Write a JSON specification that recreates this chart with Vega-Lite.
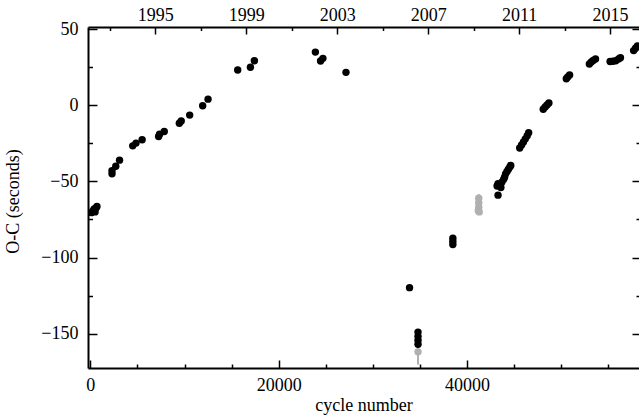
{
  "$schema": "https://vega.github.io/schema/vega-lite/v6.json",
  "autosize": "none",
  "padding": {"left": 88, "top": 27, "right": 0, "bottom": 51},
  "width": 551,
  "height": 341,
  "background": "white",
  "config": {
    "view": {"stroke": null},
    "axis": {
      "grid": false,
      "labelFont": "Liberation Serif",
      "labelFontSize": 18,
      "labelColor": "black",
      "titleFont": "Liberation Serif",
      "titleFontSize": 18,
      "titleFontWeight": "normal",
      "titleColor": "black",
      "domainColor": "black",
      "domainWidth": 2,
      "tickColor": "black",
      "tickWidth": 1.5
    }
  },
  "data": {
    "values": [
      {"cycle": 34800, "oc": -162, "grp": "b", "lo": -170.4, "hi": -153.6},
      {"cycle": 41250, "oc": -61, "grp": "b", "lo": -64, "hi": -58.3},
      {"cycle": 41250, "oc": -64, "grp": "b"},
      {"cycle": 41250, "oc": -67, "grp": "b"},
      {"cycle": 41200, "oc": -69.3, "grp": "b"},
      {"cycle": 41300, "oc": -70, "grp": "b"},
      {"cycle": 100, "oc": -70.5, "grp": "a"},
      {"cycle": 250, "oc": -69.5, "grp": "a"},
      {"cycle": 400, "oc": -68, "grp": "a"},
      {"cycle": 500, "oc": -70, "grp": "a"},
      {"cycle": 600, "oc": -67.5, "grp": "a"},
      {"cycle": 700, "oc": -66.5, "grp": "a"},
      {"cycle": 2300, "oc": -45, "grp": "a"},
      {"cycle": 2300, "oc": -43, "grp": "a"},
      {"cycle": 2700, "oc": -40, "grp": "a"},
      {"cycle": 3100, "oc": -36, "grp": "a"},
      {"cycle": 4500, "oc": -26.6, "grp": "a"},
      {"cycle": 4850, "oc": -24.8, "grp": "a"},
      {"cycle": 5500, "oc": -22.6, "grp": "a"},
      {"cycle": 7250, "oc": -20.5, "grp": "a"},
      {"cycle": 7350, "oc": -19, "grp": "a"},
      {"cycle": 7850, "oc": -17.2, "grp": "a"},
      {"cycle": 9450, "oc": -11.8, "grp": "a"},
      {"cycle": 9650, "oc": -10.2, "grp": "a"},
      {"cycle": 10550, "oc": -6.4, "grp": "a"},
      {"cycle": 11930, "oc": -0.2, "grp": "a"},
      {"cycle": 12500, "oc": 4.1, "grp": "a"},
      {"cycle": 15650, "oc": 23.2, "grp": "a"},
      {"cycle": 17000, "oc": 25, "grp": "a"},
      {"cycle": 17420, "oc": 29.3, "grp": "a"},
      {"cycle": 23900, "oc": 35, "grp": "a"},
      {"cycle": 24450, "oc": 29.2, "grp": "a"},
      {"cycle": 24700, "oc": 30.9, "grp": "a"},
      {"cycle": 27150, "oc": 21.7, "grp": "a"},
      {"cycle": 33900, "oc": -119.8, "grp": "a"},
      {"cycle": 34800, "oc": -149, "grp": "a"},
      {"cycle": 34800, "oc": -151.8, "grp": "a"},
      {"cycle": 34800, "oc": -154.4, "grp": "a"},
      {"cycle": 34800, "oc": -157, "grp": "a"},
      {"cycle": 38500, "oc": -87.3, "grp": "a"},
      {"cycle": 38500, "oc": -89.5, "grp": "a"},
      {"cycle": 38500, "oc": -91.5, "grp": "a"},
      {"cycle": 43300, "oc": -59, "grp": "a"},
      {"cycle": 43200, "oc": -53, "grp": "a"},
      {"cycle": 43300, "oc": -51.5, "grp": "a"},
      {"cycle": 43500, "oc": -52.5, "grp": "a"},
      {"cycle": 43600, "oc": -54, "grp": "a"},
      {"cycle": 43700, "oc": -50.5, "grp": "a"},
      {"cycle": 43900, "oc": -48.5, "grp": "a"},
      {"cycle": 44000, "oc": -47, "grp": "a"},
      {"cycle": 44100, "oc": -45, "grp": "a"},
      {"cycle": 44250, "oc": -43.5, "grp": "a"},
      {"cycle": 44400, "oc": -42, "grp": "a"},
      {"cycle": 44550, "oc": -40.5, "grp": "a"},
      {"cycle": 44650, "oc": -39.5, "grp": "a"},
      {"cycle": 45600, "oc": -28, "grp": "a"},
      {"cycle": 45800, "oc": -26, "grp": "a"},
      {"cycle": 46000, "oc": -24, "grp": "a"},
      {"cycle": 46200, "oc": -22, "grp": "a"},
      {"cycle": 46400, "oc": -20, "grp": "a"},
      {"cycle": 46550, "oc": -18, "grp": "a"},
      {"cycle": 48100, "oc": -2.5, "grp": "a"},
      {"cycle": 48300, "oc": -1, "grp": "a"},
      {"cycle": 48500, "oc": 0.3, "grp": "a"},
      {"cycle": 48700, "oc": 1.5, "grp": "a"},
      {"cycle": 50550, "oc": 17.5, "grp": "a"},
      {"cycle": 50700, "oc": 18.7, "grp": "a"},
      {"cycle": 50900, "oc": 20, "grp": "a"},
      {"cycle": 53000, "oc": 27.2, "grp": "a"},
      {"cycle": 53200, "oc": 28.5, "grp": "a"},
      {"cycle": 53400, "oc": 29.5, "grp": "a"},
      {"cycle": 53650, "oc": 30.5, "grp": "a"},
      {"cycle": 55200, "oc": 28.8, "grp": "a"},
      {"cycle": 55500, "oc": 29, "grp": "a"},
      {"cycle": 55800, "oc": 29.3, "grp": "a"},
      {"cycle": 56100, "oc": 30.5, "grp": "a"},
      {"cycle": 56300, "oc": 31.3, "grp": "a"},
      {"cycle": 57700, "oc": 36, "grp": "a"},
      {"cycle": 57900, "oc": 37.5, "grp": "a"},
      {"cycle": 58100, "oc": 39, "grp": "a"}
    ]
  },
  "resolve": {"axis": {"x": "independent", "y": "independent"}},
  "layer": [
    {
      "transform": [{"filter": "isValid(datum.lo)"}],
      "mark": {"type": "rule", "color": "#b0b0b0", "strokeWidth": 2, "clip": true},
      "encoding": {
        "x": {"field": "cycle", "type": "quantitative", "scale": {"domain": [-250, 58270], "nice": false, "zero": false}, "axis": null},
        "y": {"field": "lo", "type": "quantitative", "scale": {"domain": [-172.6, 51.5], "nice": false, "zero": false}, "axis": null},
        "y2": {"field": "hi"}
      }
    },
    {
      "mark": {"type": "point", "filled": true, "size": 55, "opacity": 1, "clip": true},
      "encoding": {
        "x": {
          "field": "cycle", "type": "quantitative",
          "scale": {"domain": [-250, 58270], "nice": false, "zero": false},
          "axis": {
            "orient": "bottom",
            "title": "cycle number",
            "titleX": 275.5, "titleY": 42, "titleBaseline": "alphabetic", "titleAlign": "center",
            "values": [0, 5000, 10000, 15000, 20000, 25000, 30000, 35000, 40000, 45000, 50000, 55000],
            "format": "d",
            "labelExpr": "datum.value % 20000 === 0 ? datum.label : ''",
            "tickSize": {"condition": {"test": "datum.value % 20000 === 0", "value": -8}, "value": -4},
            "labelPadding": 16,
            "labelFlush": false,
            "labelOverlap": false
          }
        },
        "y": {
          "field": "oc", "type": "quantitative",
          "scale": {"domain": [-172.6, 51.5], "nice": false, "zero": false},
          "axis": {
            "orient": "left",
            "title": "O-C (seconds)",
            "titleX": -75, "titleY": 174, "titleAngle": -90, "titleBaseline": "middle", "titleAlign": "center",
            "values": [50, 25, 0, -25, -50, -75, -100, -125, -150],
            "format": "d",
            "labelExpr": "datum.value % 50 === 0 ? replace(datum.label, '-', '\u2212') : ''",
            "tickSize": {"condition": {"test": "datum.value % 50 === 0", "value": -9}, "value": -4.5},
            "labelPadding": 19,
            "labelFlush": false,
            "labelOverlap": false
          }
        },
        "color": {"field": "grp", "type": "nominal", "scale": {"domain": ["a", "b"], "range": ["#000000", "#b0b0b0"]}, "legend": null}
      }
    },
    {
      "mark": {"type": "point", "filled": true, "size": 1, "opacity": 0},
      "encoding": {
        "x": {
          "field": "cycle", "type": "quantitative",
          "axis": {
            "orient": "top",
            "title": null,
            "values": [2075, 6904, 11733, 16563, 21392, 26222, 31051, 35881, 40710, 45540, 50369, 55199],
            "labelExpr": "abs(((datum.value - 6904) / 2414.7) % 4) < 0.5 ? '' + (round((datum.value - 6904) / 2414.7) + 1995) : ''",
            "tickSize": {"condition": {"test": "abs(((datum.value - 6904) / 2414.7) % 4) < 0.5", "value": -7}, "value": -3.5},
            "labelPadding": 10,
            "labelFlush": false,
            "labelOverlap": false
          }
        },
        "y": {
          "field": "oc", "type": "quantitative",
          "axis": {
            "orient": "right",
            "title": null,
            "domain": false,
            "labels": false,
            "values": [50, 25, 0, -25, -50, -75, -100, -125, -150],
            "tickSize": {"condition": {"test": "datum.value % 50 === 0", "value": -7}, "value": -3}
          }
        }
      }
    }
  ]
}
